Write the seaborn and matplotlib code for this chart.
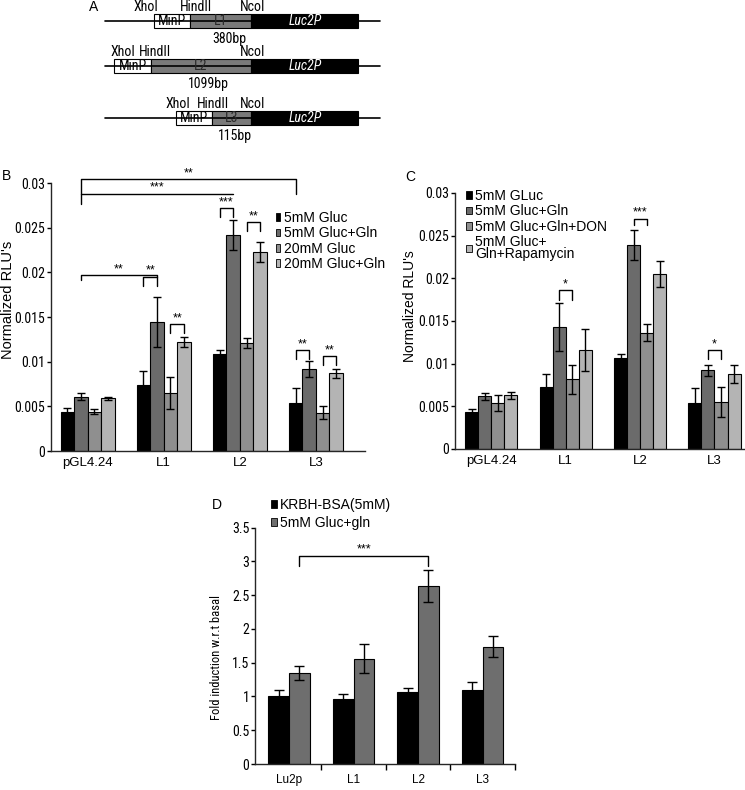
"""Promoter constructs (A) and luciferase reporter assays (B, C, D)."""

import matplotlib
matplotlib.use("Agg")
import matplotlib.pyplot as plt
from matplotlib import font_manager
from matplotlib.patches import Rectangle, Patch
import numpy as np
import pandas as pd
import seaborn as sns

W, H = 745, 790

# ── data ──────────────────────────────────────────────────────────────────────
groups_bc = ["pGL4.24", "L1", "L2", "L3"]

b_labels = ["5mM Gluc", "5mM Gluc+Gln", "20mM Gluc", "20mM Gluc+Gln"]
b_mean = [
    [0.0044, 0.0074, 0.0109, 0.0054],
    [0.0061, 0.0144, 0.0242, 0.0092],
    [0.0044, 0.0065, 0.0121, 0.0043],
    [0.0059, 0.0122, 0.0223, 0.0087],
]
b_err = [
    [0.0004, 0.0016, 0.0004, 0.0017],
    [0.0004, 0.0028, 0.0017, 0.0009],
    [0.0003, 0.0018, 0.0006, 0.0007],
    [0.0002, 0.0006, 0.0011, 0.0005],
]
# (group, bar) -> (group, bar), top, left drop, right drop, stars
b_sig = [
    ((0, 1), (3, 0), 0.0304, 0.0288, 0.0288, "**"),
    ((0, 1), (2, 1), 0.0288, 0.0277, 0.0288, "***"),
    ((2, 0), (2, 1), 0.0272, 0.0262, 0.0262, "***"),
    ((2, 2), (2, 3), 0.0256, 0.0246, 0.0246, "**"),
    ((0, 1), (1, 1), 0.0197, 0.0191, 0.0195, "**"),
    ((1, 0), (1, 1), 0.0195, 0.0185, 0.0185, "**"),
    ((1, 2), (1, 3), 0.0142, 0.0132, 0.0132, "**"),
    ((3, 0), (3, 1), 0.0113, 0.0103, 0.0103, "**"),
    ((3, 2), (3, 3), 0.0106, 0.0096, 0.0096, "**"),
]

c_labels = ["5mM GLuc", "5mM Gluc+Gln", "5mM Gluc+Gln+DON", "5mM Gluc+\nGln+Rapamycin"]
c_mean = [
    [0.0043, 0.0073, 0.0107, 0.0054],
    [0.0062, 0.0143, 0.0239, 0.0092],
    [0.0054, 0.0082, 0.0136, 0.0055],
    [0.0063, 0.0116, 0.0205, 0.0088],
]
c_err = [
    [0.0004, 0.0015, 0.0004, 0.0017],
    [0.0004, 0.0028, 0.0018, 0.0007],
    [0.0009, 0.0017, 0.0010, 0.0018],
    [0.0004, 0.0025, 0.0015, 0.0011],
]
c_sig = [
    ((1, 1), (1, 2), 0.0186, 0.0175, 0.0175, "*"),
    ((2, 1), (2, 2), 0.0270, 0.0262, 0.0262, "***"),
    ((3, 1), (3, 2), 0.0116, 0.0106, 0.0106, "*"),
]

rlu_ticks = [0, 0.005, 0.01, 0.015, 0.02, 0.025, 0.03]
rlu_ticklabels = ["0", "0.005", "0.01", "0.015", "0.02", "0.025", "0.03"]

groups_d = ["Lu2p", "L1", "L2", "L3"]
d_labels = ["KRBH-BSA(5mM)", "5mM Gluc+gln"]
d_mean = [
    [1.00, 0.97, 1.06, 1.10],
    [1.35, 1.56, 2.64, 1.74],
]
d_err = [
    [0.10, 0.06, 0.06, 0.12],
    [0.10, 0.21, 0.24, 0.16],
]
d_sig = [((0, 1), (2, 1), 3.085, 2.93, 2.93, "***")]
fold_ticks = [0, 0.5, 1, 1.5, 2, 2.5, 3, 3.5]
fold_ticklabels = ["0", "0.5", "1", "1.5", "2", "2.5", "3", "3.5"]

# panel A constructs
constructs = ["L1", "L2", "L3"]
construct_bp = ["380bp", "1099bp", "115bp"]

# ── style ─────────────────────────────────────────────────────────────────────
sns.set_theme(style="ticks")
plt.rcParams["font.family"] = ["Liberation Sans", "DejaVu Sans"]
plt.rcParams["axes.linewidth"] = 1.0
plt.rcParams["text.color"] = "black"
plt.rcParams["xtick.color"] = "black"
plt.rcParams["ytick.color"] = "black"

# the figure's tick labels / schematic use a narrow face; use one if present
_fonts = font_manager.fontManager.ttflist
_names = {f.name for f in _fonts}
NARROW = None
for cand in ["Liberation Sans Narrow", "DejaVu Sans Condensed", "Roboto Condensed"]:
    if cand in _names:
        NARROW = dict(fontfamily=[cand, "Liberation Sans"])
        break
if NARROW is None and any(f.name == "DejaVu Sans" and f.stretch == "condensed"
                          for f in _fonts):
    NARROW = dict(fontfamily="DejaVu Sans", fontstretch="condensed")
SHRINK = 1.0 if NARROW else 0.86
if NARROW is None:
    NARROW = dict(fontfamily=["Liberation Sans", "DejaVu Sans"])


def narrow(size):
    return dict(NARROW, fontsize=size * SHRINK)


GRAYS4 = ["#000000", "#6b6b6b", "#8f8f8f", "#b4b4b4"]
GRAYS2 = ["#000000", "#6e6e6e"]

fig = plt.figure(figsize=(W / 100, H / 100), dpi=100, facecolor="white")


def px_axes(left, right, bottom, top):
    return fig.add_axes([left / W, 1 - bottom / H, (right - left) / W, (bottom - top) / H])


def fig_text(x, y, s, **kw):
    fig.text(x / W, 1 - y / H, s, **kw)


def grouped_bars(ax, cats, labels, means, errs, colors, width, capsize):
    df = pd.DataFrame({
        "group": np.tile(cats, len(labels)),
        "treatment": np.repeat(labels, len(cats)),
        "value": np.concatenate(means),
    })
    sns.barplot(data=df, x="group", y="value", hue="treatment", order=cats,
                hue_order=labels, palette=colors, width=width, gap=0,
                errorbar=None, edgecolor="black", linewidth=0.8, saturation=1,
                legend=False, ax=ax)
    bars = list(ax.containers)
    centers = []
    for cont, err in zip(bars, errs):
        xs = [p.get_x() + p.get_width() / 2 for p in cont]
        ys = [p.get_height() for p in cont]
        ax.errorbar(xs, ys, yerr=err, fmt="none", ecolor="black",
                    elinewidth=1, capsize=capsize, capthick=1)
        centers.append(xs)
    return centers


def brackets(ax, centers, sigs, fs=9):
    for (g1, b1), (g2, b2), top, y1, y2, stars in sigs:
        x1, x2 = centers[b1][g1], centers[b2][g2]
        ax.plot([x1, x1, x2, x2], [y1, top, top, y2], color="black", lw=1,
                clip_on=False)
        ax.annotate(stars, ((x1 + x2) / 2, top), xytext=(0, 0),
                    textcoords="offset points", ha="center", va="bottom",
                    fontsize=fs, annotation_clip=False)


def style_bar_ax(ax, ticks, ticklabels, xfs):
    sns.despine(ax=ax)
    ax.set_yticks(ticks)
    ax.set_yticklabels(ticklabels, **narrow(10))
    ax.set_ylim(ticks[0], ticks[-1])
    ax.set_xlabel("")
    ax.set_ylabel("")
    ax.tick_params(axis="y", length=3, width=1, pad=1)
    ax.tick_params(axis="x", length=0, pad=4, labelsize=xfs)


def legend(ax, labels, colors, x, y, fs, spacing, hl=0.35, hh=0.55):
    handles = [Patch(facecolor=c, edgecolor="black", linewidth=0.6) for c in colors]
    leg = ax.legend(handles, labels, loc="upper left",
                    bbox_to_anchor=(x / W, 1 - y / H),
                    bbox_transform=fig.transFigure, frameon=False, fontsize=fs,
                    handlelength=hl, handleheight=hh, handletextpad=0.25,
                    labelspacing=spacing, borderpad=0, borderaxespad=0)
    for t in leg.get_texts():
        t.set_linespacing(0.8)
    return leg


# ── Panel A — constructs ─────────────────────────────────────────────────────
axA = px_axes(0, W, 160, 0)
axA.set_xlim(0, W)
axA.set_ylim(160, 0)
axA.axis("off")

row_y = [21, 66, 118]
minp_start = [154, 114, 176]
minp_end = [190, 151, 212]
xhoi_x = [146, 123, 178]
hind_x = [196, 155, 213]
bp_x = [229, 208, 235]
ncoi, luc_end = 251, 358
a_kw = dict(ha="center", va="center", **narrow(10))
for i, name in enumerate(constructs):
    y = row_y[i]
    axA.plot([105, 380], [y, y], color="black", lw=1.2)
    axA.add_patch(Rectangle((minp_start[i], y - 7), minp_end[i] - minp_start[i], 14,
                            facecolor="white", edgecolor="black", lw=0.8))
    axA.add_patch(Rectangle((minp_end[i], y - 7), ncoi - minp_end[i], 14,
                            facecolor="#7a7a7a", edgecolor="black", lw=0.8))
    axA.add_patch(Rectangle((ncoi, y - 7), luc_end - ncoi, 14,
                            facecolor="black", edgecolor="black", lw=0.8))
    axA.text((minp_start[i] + minp_end[i]) / 2, y, "MinP", **a_kw)
    axA.text((minp_end[i] + ncoi) / 2, y, name, color="#2a2a2a", **a_kw)
    axA.text((ncoi + luc_end) / 2 + 0.5, y, "Luc2P", color="white",
             style="italic", **a_kw)
    axA.text(xhoi_x[i], y - 14, "XhoI", **a_kw)
    axA.text(hind_x[i], y - 14, "HindII", **a_kw)
    axA.text(253, y - 14, "NcoI", **a_kw)
    axA.text(bp_x[i], y + 18, construct_bp[i], **a_kw)

# ── Panel B ──────────────────────────────────────────────────────────────────
axB = px_axes(50.7, 365, 451, 183)
cB = grouped_bars(axB, groups_bc, b_labels, b_mean, b_err, GRAYS4, 0.71, 3)
style_bar_ax(axB, rlu_ticks, rlu_ticklabels, 9.5)
axB.set_xlim(-0.485, 3.645)
brackets(axB, cB, b_sig)
legend(axB, b_labels, GRAYS4, 276, 211, 10, 0.1, hl=0.3, hh=0.5)

# ── Panel C ──────────────────────────────────────────────────────────────────
axC = px_axes(455, 745, 449, 193)
cC = grouped_bars(axC, groups_bc, c_labels, c_mean, c_err, GRAYS4, 0.70, 3)
style_bar_ax(axC, rlu_ticks, rlu_ticklabels, 9.5)
axC.set_xlim(-0.487, 3.41)
brackets(axC, cC, c_sig)
legend(axC, c_labels, GRAYS4, 466, 189, 10, 0.1, hl=0.4, hh=0.45)

# ── Panel D ──────────────────────────────────────────────────────────────────
axD = px_axes(255, 515, 764, 527.7)
cD = grouped_bars(axD, groups_d, d_labels, d_mean, d_err, GRAYS2, 0.64, 3.8)
style_bar_ax(axD, fold_ticks, fold_ticklabels, 8.5)
axD.set_xlim(-0.525, 3.49)
axD.set_xticks([0.5, 1.5, 2.5, 3.5], minor=True)
axD.tick_params(axis="x", which="minor", length=4, width=1)
axD.tick_params(axis="x", which="major", length=0, pad=7)
brackets(axD, cD, d_sig)
legend(axD, d_labels, GRAYS2, 271, 498, 10, 0.3, hl=0.4, hh=0.45)

# ── labels ───────────────────────────────────────────────────────────────────
fig_text(94, 7, "A", ha="center", va="center", fontsize=10)
fig_text(6, 176, "B", ha="center", va="center", fontsize=10)
fig_text(410, 177, "C", ha="center", va="center", fontsize=10)
fig_text(217, 505, "D", ha="center", va="center", fontsize=10)
fig_text(8, 300, "Normalized RLU's", ha="center", va="center", rotation=90,
         fontsize=10.5)
fig_text(410, 306, "Normalized RLU's", ha="center", va="center", rotation=90,
         fontsize=10)
fig_text(217, 657, "Fold induction w.r.t basal", ha="center", va="center",
         rotation=90, **narrow(9))

fig.savefig("out.png", dpi=100, facecolor="white")
